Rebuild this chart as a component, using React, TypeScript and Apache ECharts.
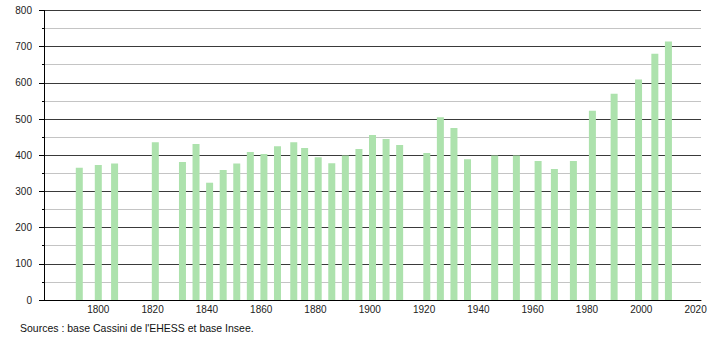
import React, { useEffect, useRef } from "react";
import * as echarts from "echarts";

const years = [
  1793, 1800, 1806, 1821, 1831, 1836, 1841, 1846, 1851, 1856, 1861, 1866,
  1872, 1876, 1881, 1886, 1891, 1896, 1901, 1906, 1911, 1921, 1926, 1931,
  1936, 1946, 1954, 1962, 1968, 1975, 1982, 1990, 1999, 2005, 2010,
];
const population = [
  365, 373, 377, 436, 381, 431, 324, 359, 377, 409, 403, 425,
  436, 420, 394, 378, 399, 417, 456, 445, 428, 406, 505, 475,
  389, 399, 399, 384, 362, 384, 523, 570, 609, 680, 714,
];
const xTickLabels = [1800, 1820, 1840, 1860, 1880, 1900, 1920, 1940, 1960, 1980, 2000, 2020];
const sourceText = "Sources : base Cassini de l'EHESS et base Insee.";

export default function App() {
  const ref = useRef<HTMLDivElement>(null);
  useEffect(() => {
    if (!ref.current) return;
    const chart = echarts.init(ref.current, null, { renderer: "svg" });
    const font = "'Liberation Sans', Arial, sans-serif";
    chart.setOption({
      animation: false,
      backgroundColor: "#ffffff",
      grid: { left: 44, top: 10.4, width: 657, height: 289.6 },
      xAxis: {
        type: "value",
        min: 1780,
        max: 2022,
        interval: 20,
        axisLine: { show: true, lineStyle: { color: "#000", width: 1 } },
        axisTick: { show: false },
        splitLine: { show: false },
        axisLabel: {
          margin: 4,
          fontSize: 10,
          fontFamily: font,
          color: "#222",
          formatter: (v: number) => (xTickLabels.includes(v) ? String(v) : ""),
        },
      },
      yAxis: {
        type: "value",
        min: 0,
        max: 800,
        interval: 100,
        axisLine: { show: true, lineStyle: { color: "#000", width: 1 } },
        axisTick: { show: true, length: 5, lineStyle: { color: "#000" } },
        minorTick: { show: true, splitNumber: 2, length: 2, lineStyle: { color: "#000" } },
        splitLine: { show: true, lineStyle: { color: "#3a3a3a", width: 1 } },
        minorSplitLine: { show: true, lineStyle: { color: "#c4c4c4", width: 1 } },
        axisLabel: { margin: 12, fontSize: 10, fontFamily: font, color: "#222" },
      },
      series: [
        {
          type: "bar",
          barWidth: 7,
          itemStyle: { color: "#ade2ad" },
          data: years.map((y, i) => [y, population[i]]),
        },
      ],
      graphic: [
        {
          type: "text",
          left: 20,
          top: 322,
          style: { text: sourceText, fontSize: 10.5, fontFamily: font, fill: "#111" },
        },
      ],
    });
    return () => chart.dispose();
  }, []);
  return (
    <div
      ref={ref}
      style={{ position: "fixed", left: 0, top: 0, width: 710, height: 340 }}
    />
  );
}
